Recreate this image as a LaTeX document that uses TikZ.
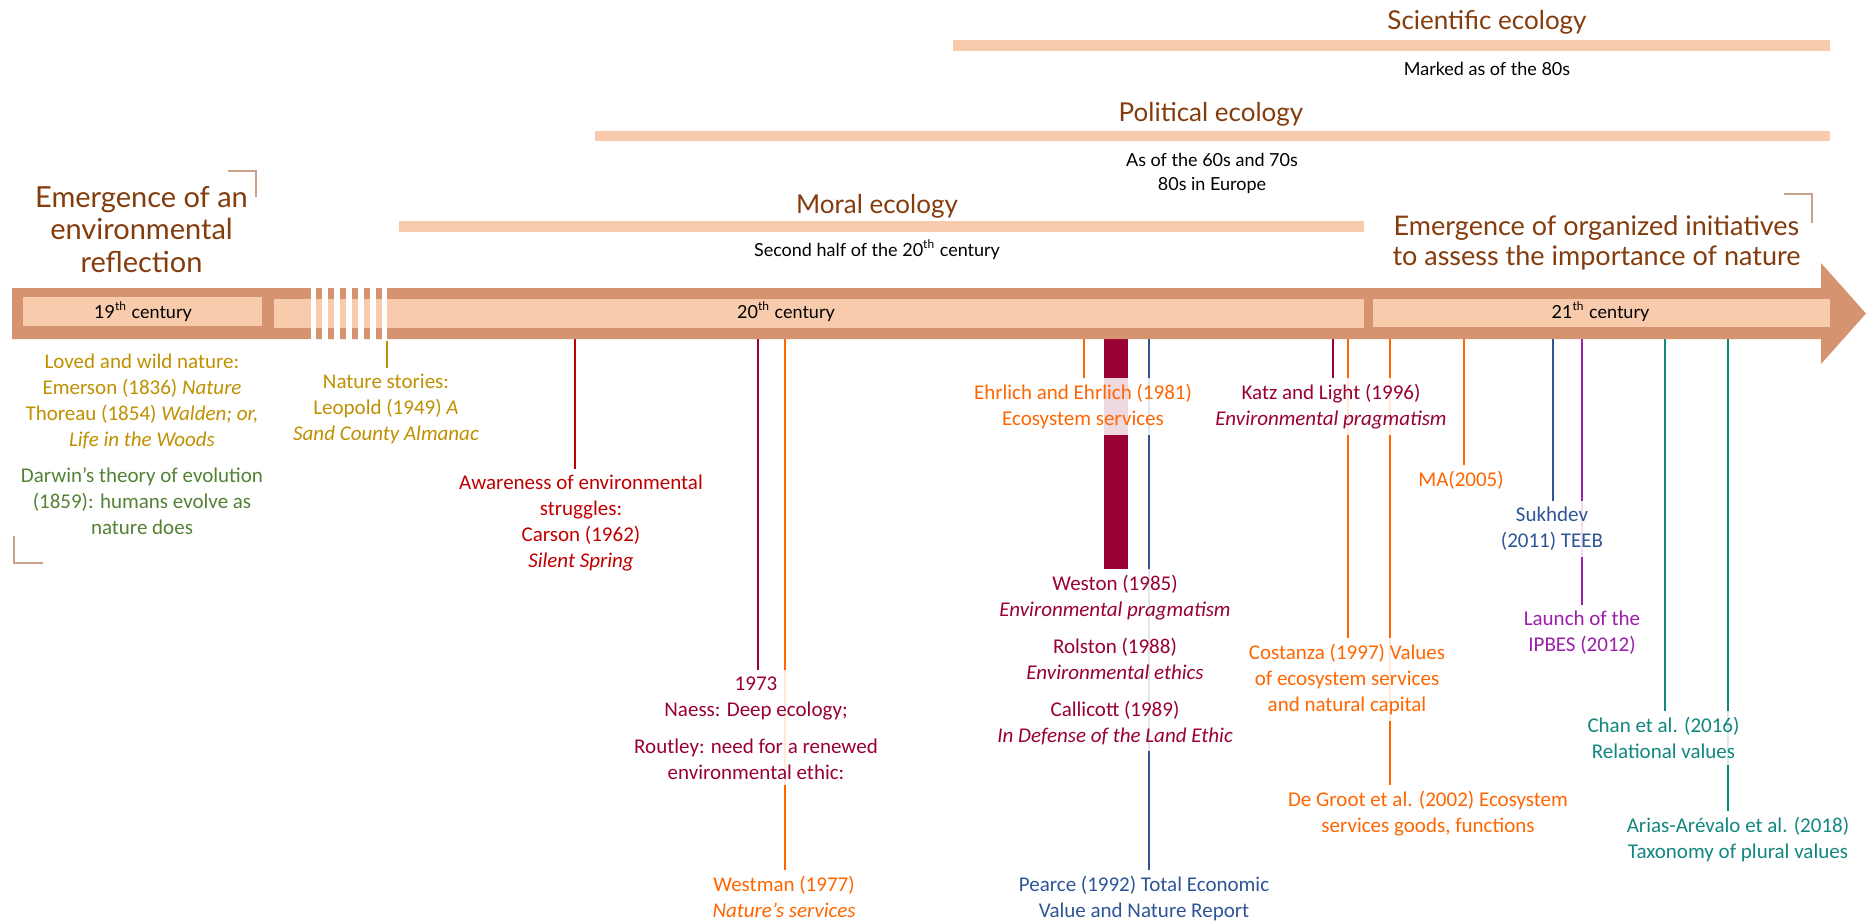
\documentclass[tikz,border=0pt]{standalone}
\usepackage{fontspec}
\setmainfont{Carlito}
\newfontfamily\headfont{Lato}
\usetikzlibrary{backgrounds}
\definecolor{barbrown}{RGB}{214,147,111}
\definecolor{bandpeach}{RGB}{248,203,173}
\definecolor{headbrown}{RGB}{132,60,12}
\definecolor{cornergrey}{RGB}{201,160,137}
\definecolor{goldtext}{RGB}{191,144,0}
\definecolor{greentext}{RGB}{84,130,53}
\definecolor{redtext}{RGB}{192,0,0}
\definecolor{maroontext}{RGB}{153,0,51}
\definecolor{orangetext}{RGB}{255,102,0}
\definecolor{bluetext}{RGB}{47,85,151}
\definecolor{purpletext}{RGB}{155,31,169}
\definecolor{tealtext}{RGB}{18,135,127}
\tikzset{
  heading/.style={font=\headfont\fontsize{13}{16}\selectfont, text=headbrown, inner sep=0pt, align=center},
  note/.style={font=\headfont\fontsize{9}{12}\selectfont, inner sep=0pt, align=center},
  event/.style={font=\fontsize{10.5}{13}\selectfont, align=center, anchor=north, inner xsep=2pt, inner ysep=3pt, fill=white, fill opacity=0.85, text opacity=1},
  evline/.style={line width=1pt},
  corner/.style={cornergrey, line width=0.6pt}
}

\begin{document}
\begin{tikzpicture}[x=0.5pt, y=-0.5pt]
    \useasboundingbox (0,0) rectangle (1870,923);
    \begin{scope}[on background layer]
        \fill [white] (0,0) rectangle (1870,923);
    \end{scope}

    % periods
    \fill [bandpeach] (953,40) rectangle (1830,51);
    \fill [bandpeach] (595,131) rectangle (1830,141);
    \fill [bandpeach] (399,221) rectangle (1364,232);
    \node [heading, anchor=base] (scientific) at (1487,29) {Scientific ecology};
    \node [note, anchor=base] (marked) at (1487,75) {Marked as of the 80s};
    \node [heading, anchor=base] (political) at (1211,121) {Political ecology};
    \node [note, anchor=north] (sixties) at (1212,153) {As of the 60s and 70s\\80s in Europe};
    \node [heading, anchor=base] (moral) at (877,213) {Moral ecology};
    \node [note, anchor=base] (secondhalf) at (877,256) {Second half of the 20\textsuperscript{th} century};
    \node [heading, anchor=north, font=\headfont\fontsize{14.5}{16.2}\selectfont] (emergence) at (141.5,186) {Emergence of an\\environmental\\reflection};
    \node [heading, anchor=north, font=\headfont\fontsize{13.5}{15.2}\selectfont] (initiatives) at (1596.5,215) {Emergence of organized initiatives\\to assess the importance of nature};
    \draw [corner] (228,171) -- (256,171) -- (256,197);
    \draw [corner] (14,536) -- (14,563) -- (43,563);
    \draw [corner] (1784,194) -- (1812,194) -- (1812,223);

    % time arrow
    \fill [barbrown] (12,288) -- (1821,288) -- (1821,263) -- (1866,313.5) -- (1821,364) -- (1821,339) -- (12,339) -- cycle;
    \fill [bandpeach] (23,297) rectangle (262,326);
    \fill [bandpeach] (274,299) rectangle (1364,328);
    \fill [bandpeach] (1373,299) rectangle (1830,327);
    \fill [white] (310.5,287) rectangle (316.3,340);
    \fill [white] (322.3,287) rectangle (328.1,340);
    \fill [white] (334.2,287) rectangle (340,340);
    \fill [white] (346,287) rectangle (351.8,340);
    \fill [white] (357.9,287) rectangle (363.7,340);
    \fill [white] (369.7,287) rectangle (375.5,340);
    \fill [white] (381.6,287) rectangle (387.4,340);
    \node [note, anchor=base] (c19) at (143,318) {19\textsuperscript{th} century};
    \node [note, anchor=base] (c20) at (786,318) {20\textsuperscript{th} century};
    \node [note, anchor=base] (c21) at (1600.5,318) {21\textsuperscript{th} century};

    % events
    \node [event, text=goldtext] (loved) at (142,348) {Loved and wild nature:\\Emerson (1836) \textit{Nature}\\Thoreau (1854) \textit{Walden; or,}\\\textit{Life in the Woods}};
    \node [event, text=greentext] (darwin) at (142,461) {Darwin’s theory of evolution\\(1859): humans evolve as\\nature does};
    \node [event, text=goldtext] (leopold) at (386,368) {Nature stories:\\Leopold (1949) \textit{A}\\\textit{Sand County Almanac}};
    \node [event, text=redtext] (carson) at (581,469) {Awareness of environmental\\struggles:\\Carson (1962)\\\textit{Silent Spring}};
    \node [event, text=maroontext] (naess) at (756,670) {1973\\Naess: Deep ecology;\\[5.5pt]Routley: need for a renewed\\environmental ethic:};
    \node [event, text=orangetext] (westman) at (784,870) {Westman (1977)\\\textit{Nature’s services}};
    \node [event, text=orangetext] (ehrlich) at (1083,378) {Ehrlich and Ehrlich (1981)\\Ecosystem services};
    \node [event, text=maroontext] (weston) at (1115,569) {Weston (1985)\\\textit{Environmental pragmatism}\\[5.5pt]Rolston (1988)\\\textit{Environmental ethics}\\[5.5pt]Callicott (1989)\\\textit{In Defense of the Land Ethic}};
    \node [event, text=bluetext] (pearce) at (1144,870) {Pearce (1992) Total Economic\\Value and Nature Report};
    \node [event, text=maroontext] (katz) at (1331,378) {Katz and Light (1996)\\\textit{Environmental pragmatism}};
    \node [event, text=orangetext] (costanza) at (1347,638) {Costanza (1997) Values\\of ecosystem services\\and natural capital};
    \node [event, text=orangetext] (degroot) at (1428,785) {De Groot et al. (2002) Ecosystem\\services goods, functions};
    \node [event, text=orangetext] (ma) at (1461,465) {MA(2005)};
    \node [event, text=bluetext] (sukhdev) at (1552,501) {Sukhdev\\(2011) TEEB};
    \node [event, text=purpletext] (ipbes) at (1582,605) {Launch of the\\IPBES (2012)};
    \node [event, text=tealtext] (chan) at (1663.5,711) {Chan et al. (2016)\\Relational values};
    \node [event, text=tealtext] (arias) at (1738,811) {Arias-Arévalo et al. (2018)\\Taxonomy of plural values};

    \begin{scope}[on background layer]
        \coordinate (t-leopold) at (387,341);
        \coordinate (t-carson) at (574.7,339);
        \coordinate (t-naess) at (757.7,339);
        \coordinate (t-westman) at (784.7,339);
        \coordinate (t-ehrlich) at (1084.3,339);
        \coordinate (t-weston) at (1116,339);
        \coordinate (t-pearce) at (1149.3,339);
        \coordinate (t-katz) at (1333,339);
        \coordinate (t-costanza) at (1347.7,339);
        \coordinate (t-degroot) at (1390.3,339);
        \coordinate (t-ma) at (1463.8,339);
        \coordinate (t-sukhdev) at (1553,339);
        \coordinate (t-ipbes) at (1581.9,339);
        \coordinate (t-chan) at (1664.7,339);
        \coordinate (t-arias) at (1727.7,339);
        \draw [evline, goldtext] (t-leopold) -- (t-leopold |- leopold.north);
        \draw [evline, redtext] (t-carson) -- (t-carson |- carson.north);
        \draw [evline, maroontext] (t-naess) -- (t-naess |- naess.north);
        \draw [evline, orangetext] (t-westman) -- (t-westman |- westman.north);
        \draw [evline, orangetext] (t-ehrlich) -- (t-ehrlich |- ehrlich.north);
        \draw [maroontext, line width=12.3pt] (t-weston) -- (t-weston |- weston.north);
        \draw [evline, bluetext] (t-pearce) -- (t-pearce |- pearce.north);
        \draw [evline, maroontext] (t-katz) -- (t-katz |- katz.north);
        \draw [evline, orangetext] (t-costanza) -- (t-costanza |- costanza.north);
        \draw [evline, orangetext] (t-degroot) -- (t-degroot |- degroot.north);
        \draw [evline, orangetext] (t-ma) -- (t-ma |- ma.north);
        \draw [evline, bluetext] (t-sukhdev) -- (t-sukhdev |- sukhdev.north);
        \draw [evline, purpletext] (t-ipbes) -- (t-ipbes |- ipbes.north);
        \draw [evline, tealtext] (t-chan) -- (t-chan |- chan.north);
        \draw [evline, tealtext] (t-arias) -- (t-arias |- arias.north);
    \end{scope}
\end{tikzpicture}
\end{document}
